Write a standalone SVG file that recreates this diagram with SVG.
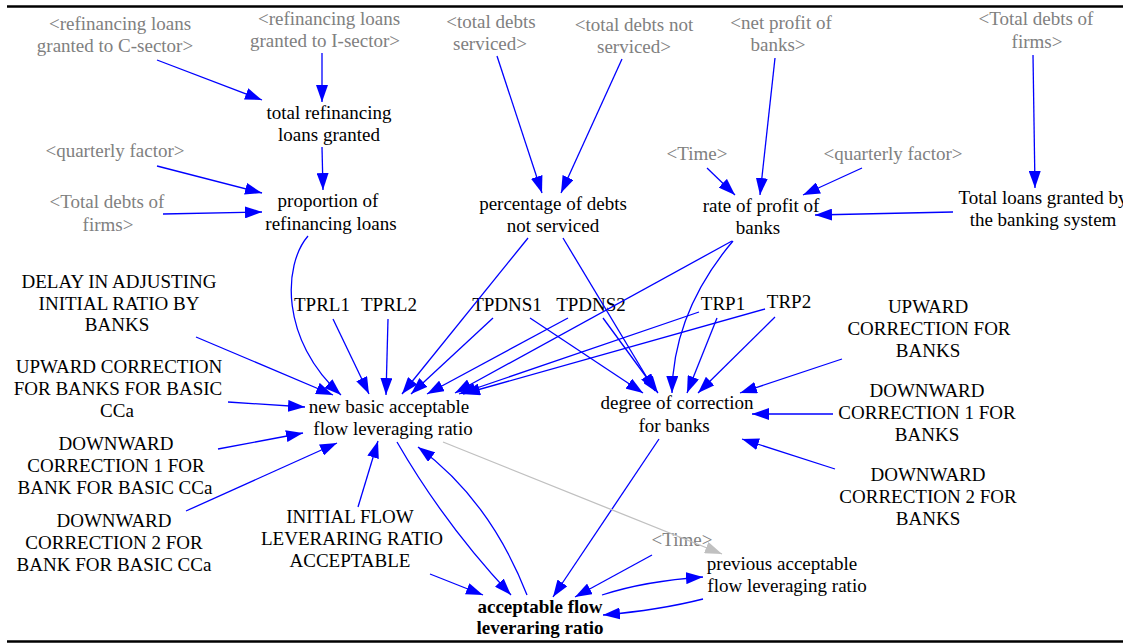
<svg xmlns="http://www.w3.org/2000/svg" width="1138" height="644" viewBox="0 0 1138 644">
<style>
text{font-family:"Liberation Serif","Times New Roman",serif;font-size:19px;text-anchor:middle;fill:#000}
.g text{fill:#808080}
.b text{font-weight:bold}
.c path{fill:none;stroke:#0000FF;stroke-width:1.3;marker-end:url(#ah)}
.c path.gr{stroke:#C0C0C0;marker-end:url(#ahg)}
.rule{stroke:#000;stroke-width:2.5}
</style>
<defs>
<marker id="ah" markerUnits="userSpaceOnUse" markerWidth="17" markerHeight="12" viewBox="0 0 17 12" refX="17" refY="6" orient="auto"><path d="M0,0 L17,6 L0,12 z" fill="#0000FF"/></marker>
<marker id="ahg" markerUnits="userSpaceOnUse" markerWidth="17" markerHeight="12" viewBox="0 0 17 12" refX="17" refY="6" orient="auto"><path d="M0,0 L17,6 L0,12 z" fill="#C0C0C0"/></marker>
<clipPath id="clipR"><rect x="0" y="0" width="1123" height="644"/></clipPath>
</defs>
<rect width="1138" height="644" fill="#fff"/>
<line class="rule" x1="7" y1="6.5" x2="1123" y2="6.5"/>
<line class="rule" x1="7" y1="641.5" x2="1123" y2="641.5"/>

<g id="n_cref" class="g"><text><tspan x="120" y="30">&lt;refinancing loans</tspan><tspan x="115" y="52">granted to C-sector&gt;</tspan></text></g>
<g id="n_iref" class="g"><text><tspan x="329" y="25">&lt;refinancing loans</tspan><tspan x="325" y="47">granted to I-sector&gt;</tspan></text></g>
<g id="n_qf1" class="g"><text x="115" y="157">&lt;quarterly factor&gt;</text></g>
<g id="n_tdf1" class="g"><text><tspan x="107" y="208">&lt;Total debts of</tspan><tspan x="108" y="231">firms&gt;</tspan></text></g>
<g id="n_tds" class="g"><text><tspan x="491" y="28">&lt;total debts</tspan><tspan x="490" y="50">serviced&gt;</tspan></text></g>
<g id="n_tdns" class="g"><text><tspan x="634" y="31">&lt;total debts not</tspan><tspan x="634" y="53">serviced&gt;</tspan></text></g>
<g id="n_npb" class="g"><text><tspan x="781" y="29">&lt;net profit of</tspan><tspan x="778" y="51">banks&gt;</tspan></text></g>
<g id="n_time1" class="g"><text x="697" y="160">&lt;Time&gt;</text></g>
<g id="n_qf2" class="g"><text x="893" y="160">&lt;quarterly factor&gt;</text></g>
<g id="n_tdf2" class="g"><text><tspan x="1036" y="25">&lt;Total debts of</tspan><tspan x="1037" y="48">firms&gt;</tspan></text></g>
<g id="n_time2" class="g"><text x="682" y="546">&lt;Time&gt;</text></g>

<g id="n_trl"><text><tspan x="329" y="119">total refinancing</tspan><tspan x="329" y="141">loans granted</tspan></text></g>
<g id="n_prl"><text><tspan x="328" y="207">proportion of</tspan><tspan x="331" y="230">refinancing loans</tspan></text></g>
<g id="n_pdns"><text><tspan x="553" y="210">percentage of debts</tspan><tspan x="553" y="232">not serviced</tspan></text></g>
<g id="n_rpb"><text><tspan x="761" y="212">rate of profit of</tspan><tspan x="758" y="234">banks</tspan></text></g>
<g id="n_tlg" clip-path="url(#clipR)"><text><tspan x="1043" y="204">Total loans granted by</tspan><tspan x="1043" y="226">the banking system</tspan></text></g>
<g id="n_delay"><text><tspan x="119" y="288">DELAY IN ADJUSTING</tspan><tspan x="119" y="310">INITIAL RATIO BY</tspan><tspan x="117" y="331">BANKS</tspan></text></g>
<g id="n_tprl1"><text x="322" y="311">TPRL1</text></g>
<g id="n_tprl2"><text x="389" y="311">TPRL2</text></g>
<g id="n_tpdns1"><text x="507" y="311">TPDNS1</text></g>
<g id="n_tpdns2"><text x="591" y="311">TPDNS2</text></g>
<g id="n_trp1"><text x="723" y="310">TRP1</text></g>
<g id="n_trp2"><text x="789" y="308">TRP2</text></g>
<g id="n_ucb"><text><tspan x="928" y="313">UPWARD</tspan><tspan x="929" y="335">CORRECTION FOR</tspan><tspan x="928" y="357">BANKS</tspan></text></g>
<g id="n_dc1b"><text><tspan x="927" y="397">DOWNWARD</tspan><tspan x="927" y="419">CORRECTION 1 FOR</tspan><tspan x="927" y="441">BANKS</tspan></text></g>
<g id="n_dc2b"><text><tspan x="928" y="481">DOWNWARD</tspan><tspan x="928" y="503">CORRECTION 2 FOR</tspan><tspan x="928" y="525">BANKS</tspan></text></g>
<g id="n_ucbb"><text><tspan x="119" y="373">UPWARD CORRECTION</tspan><tspan x="118" y="395">FOR BANKS FOR BASIC</tspan><tspan x="117" y="417">CCa</tspan></text></g>
<g id="n_dc1bb"><text><tspan x="116" y="450">DOWNWARD</tspan><tspan x="116" y="472">CORRECTION 1 FOR</tspan><tspan x="115" y="494">BANK FOR BASIC CCa</tspan></text></g>
<g id="n_dc2bb"><text><tspan x="114" y="527">DOWNWARD</tspan><tspan x="114" y="549">CORRECTION 2 FOR</tspan><tspan x="114" y="571">BANK FOR BASIC CCa</tspan></text></g>
<g id="n_nbr"><text><tspan x="389" y="413">new basic acceptable</tspan><tspan x="393" y="435">flow leveraging ratio</tspan></text></g>
<g id="n_dcb"><text><tspan x="677" y="409">degree of correction</tspan><tspan x="674" y="432">for banks</tspan></text></g>
<g id="n_ifl"><text><tspan x="350" y="523">INITIAL FLOW</tspan><tspan x="352" y="545">LEVERARING RATIO</tspan><tspan x="350" y="567">ACCEPTABLE</tspan></text></g>
<g id="n_pafl"><text><tspan x="782" y="570">previous acceptable</tspan><tspan x="787" y="592">flow leveraging ratio</tspan></text></g>
<g id="n_afl" class="b"><text><tspan x="540" y="613">acceptable flow</tspan><tspan x="540" y="634">leveraring ratio</tspan></text></g>

<g id="connectors" class="c">
<path d="M157,60 Q210,80 262,100"/>
<path d="M322,53 L322,102"/>
<path d="M322,147 L323,190"/>
<path d="M157,166 L262,193"/>
<path d="M163,214 L262,212"/>
<path d="M308,236 C283,265 280,340 341,395"/>
<path d="M196,337 L333,395"/>
<path d="M333,319 L369,394"/>
<path d="M388,319 L386,395"/>
<path d="M528,238 L402,394"/>
<path d="M493,318 L411,394"/>
<path d="M568,318 L427,394"/>
<path d="M732,241 L455,393"/>
<path d="M699,312 L459,394"/>
<path d="M765,309 L463,394"/>
<path d="M228,402 L305,407"/>
<path d="M218,449 L303,433"/>
<path d="M186,511 L337,443"/>
<path d="M358,507 L378,441"/>
<path d="M497,56 L542,193"/>
<path d="M622,59 L561,193"/>
<path d="M707,168 L735,195"/>
<path d="M775,58 L760,195"/>
<path d="M862,168 L803,195"/>
<path d="M953,212 L815,215"/>
<path d="M1033,55 L1035,188"/>
<path d="M563,238 L655,391"/>
<path d="M603,318 L658,393"/>
<path d="M530,318 L643,393"/>
<path d="M733,241 C700,280 673,330 672,393"/>
<path d="M717,318 L687,393"/>
<path d="M775,317 L698,393"/>
<path d="M842,359 L740,393"/>
<path d="M833,414 L752,414"/>
<path d="M835,469 L742,439"/>
<path d="M397,442 Q445,525 511,595"/>
<path d="M527,595 Q490,500 418,447"/>
<path d="M430,574 L483,595"/>
<path d="M659,439 L553,597"/>
<path d="M652,555 L575,597"/>
<path d="M602,595 Q645,581 703,577"/>
<path d="M703,599 Q660,610 603,615"/>
<path class="gr" d="M443,442 L722,554"/>
</g>
</svg>
